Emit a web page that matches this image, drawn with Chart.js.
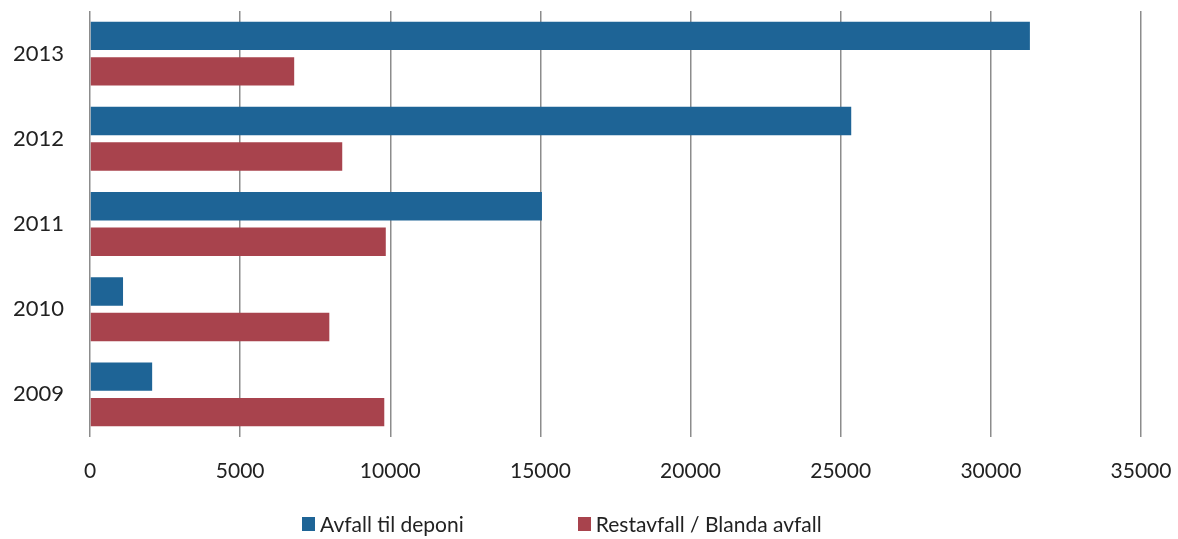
<!DOCTYPE html>
<html>
<head>
<meta charset="utf-8">
<script src="https://cdn.jsdelivr.net/npm/chart.js@4/dist/chart.umd.min.js"></script>
<style>
  html, body { margin: 0; padding: 0; background: #ffffff; }
  #wrap { position: relative; width: 1178px; height: 539px; }
  #legend { position: absolute; left: 302px; top: 511px; display: flex; align-items: center;
            font-family: Lato, "Open Sans", sans-serif; font-size: 21px; color: #222; }
  .item { display: flex; align-items: center; }
  .box { width: 13px; height: 14px; margin-right: 5px; }
</style>
</head>
<body>
<div id="wrap">
  <canvas id="c" width="1178" height="539"></canvas>
  <div id="legend"></div>
</div>
<script>
const categories = ['2013', '2012', '2011', '2010', '2009'];
const seriesNames = ['Avfall til deponi', 'Restavfall / Blanda avfall'];
const avfallTilDeponi = [31300, 25350, 15050, 1100, 2070];
const restavfall = [6800, 8400, 9850, 7970, 9800];
const xTicks = [0, 5000, 10000, 15000, 20000, 25000, 30000, 35000];
const colors = ['#1e6496', '#a8434d'];

const FONT = 'Lato, "Open Sans", sans-serif';

const chart = new Chart(document.getElementById('c'), {
  type: 'bar',
  data: {
    labels: categories,
    datasets: [
      { label: seriesNames[0], data: avfallTilDeponi, backgroundColor: colors[0] },
      { label: seriesNames[1], data: restavfall, backgroundColor: colors[1] }
    ]
  },
  options: {
    indexAxis: 'y',
    responsive: false,
    animation: false,
    devicePixelRatio: 1,
    categoryPercentage: 0.833,
    barPercentage: 0.8,
    layout: { padding: { top: 11, right: 37, left: 0, bottom: 0 } },
    plugins: { legend: { display: false }, tooltip: { enabled: false } },
    scales: {
      x: {
        min: 0, max: 35000,
        afterBuildTicks: s => { s.ticks = xTicks.map(v => ({ value: v })); },
        afterFit: s => { s.height = 102; s.paddingLeft = 0; s.paddingRight = 0; },
        grid: { color: '#8c8c8c', lineWidth: 1.5, drawTicks: false },
        border: { display: false },
        ticks: { padding: 22, color: '#222', font: { family: FONT, size: 21 },
                 callback: v => String(v) }
      },
      y: {
        afterFit: s => { s.width = 90; s.paddingTop = 0; s.paddingBottom = 0; },
        grid: { display: false, drawTicks: false },
        border: { display: false },
        ticks: { padding: 26, color: '#222', font: { family: FONT, size: 22 } }
      }
    }
  }
});

const legend = document.getElementById('legend');
chart.data.datasets.forEach((ds, i) => {
  const it = document.createElement('div');
  it.className = 'item';
  if (i > 0) it.style.marginLeft = '114px';
  const b = document.createElement('div');
  b.className = 'box';
  b.style.background = ds.backgroundColor;
  const t = document.createElement('span');
  t.textContent = ds.label;
  it.appendChild(b); it.appendChild(t);
  legend.appendChild(it);
});
</script>
</body>
</html>
